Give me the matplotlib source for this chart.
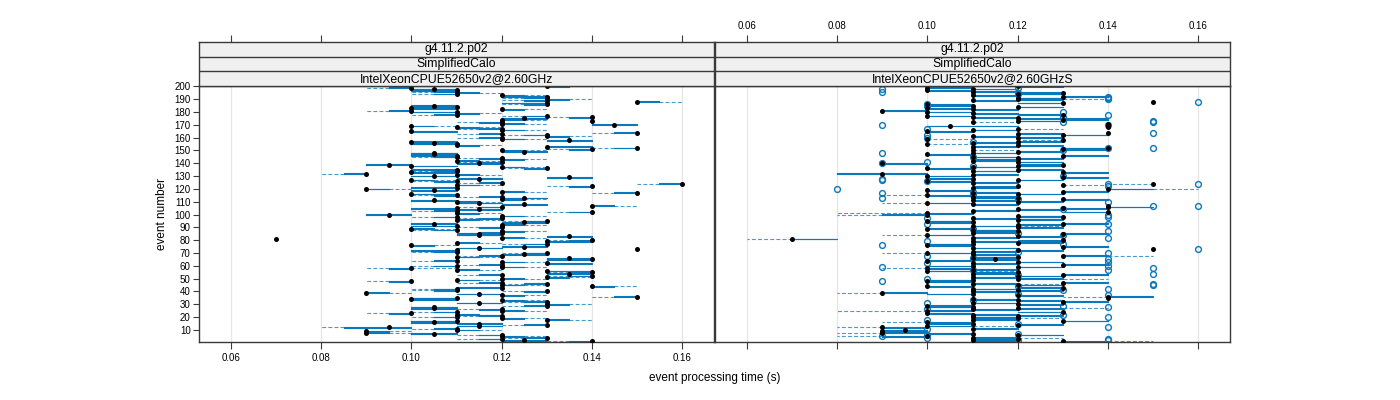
import matplotlib
matplotlib.use('Agg')
import matplotlib.pyplot as plt
import numpy as np

plt.rcParams['font.family'] = ['Liberation Sans', 'DejaVu Sans']

# event numbers and box statistics (ms)
events = list(range(1, 201))

# left panel: IntelXeonCPUE52650v2@2.60GHz
med_a = [140,125,120,130,120,120,105,90,90,110, 110,95,115,130,115,105,110,130,120,110,
         120,110,100,110,120,120,105,105,130,130, 115,130,120,100,110,150,120,115,90,130,
         110,110,120,140,120,130,120,100,110,120, 130,140,120,135,140,130,110,100,120,110,
         120,130,120,110,140,135,110,120,125,130, 110,110,150,115,125,100,130,110,130,140,
         70,120,135,115,115,120,120,110,100,120, 110,120,105,125,130,110,120,110,120,95,
         110,140,110,115,110,120,140,125,115,110, 105,120,125,120,110,100,150,120,105,90,
         110,140,110,160,120,110,100,115,135,105, 110,90,100,110,110,130,120,100,95,115,
         120,110,120,120,110,110,105,105,125,120, 140,150,130,110,110,105,100,135,120,120,
         130,130,120,150,100,120,120,110,100,145, 120,120,140,120,125,140,130,110,110,110,
         100,120,100,110,105,130,130,150,130,130, 130,130,120,110,110,110,110,105,100,130]
lo_a = [130,120,110,120,120,110,100,90,90,110, 100,80,110,120,110,100,100,130,120,100,
        110,110,90,100,120,110,100,100,120,130, 110,120,120,100,100,140,120,110,90,120,
        100,100,110,140,120,120,110,90,110,120, 130,130,110,130,130,130,110,90,120,100,
        110,130,120,100,130,130,110,110,120,120, 100,100,150,110,120,100,120,110,130,130,
        70,120,130,110,110,110,120,100,100,110, 100,120,100,120,120,110,110,100,120,90,
        110,130,100,110,100,110,140,120,110,110, 100,120,120,110,100,100,140,120,100,90,
        100,130,110,150,110,100,100,110,130,100, 110,80,100,100,100,120,120,100,90,110,
        110,110,120,110,100,100,100,100,120,120, 130,140,130,110,100,100,100,130,120,110,
        130,120,110,140,100,120,110,110,100,140, 120,110,140,120,120,130,120,100,110,100,
        90,120,100,100,100,120,120,150,120,130, 120,120,120,100,110,100,100,100,90,130]
q1_a = [135,120,115,125,120,115,100,90,90,110, 105,85,110,125,110,100,100,130,120,105,
        115,110,95,105,120,115,100,100,125,130, 110,125,120,100,100,145,120,110,90,125,
        105,105,110,140,120,125,115,95,110,120, 130,135,115,130,135,130,110,95,120,105,
        115,130,120,105,130,130,110,115,120,125, 105,100,150,110,120,100,125,110,130,135,
        70,120,130,110,110,115,120,105,100,115, 100,120,100,120,125,110,115,105,120,90,
        110,135,105,110,100,115,140,120,110,110, 100,120,120,115,105,100,145,120,100,90,
        100,135,110,155,115,105,100,110,130,100, 110,85,100,105,100,125,120,100,90,110,
        115,110,120,115,105,100,100,100,120,120, 135,145,130,110,100,100,100,130,120,115,
        130,125,115,145,100,120,115,110,100,140, 120,115,140,120,120,135,125,105,110,100,
        95,120,100,100,100,125,120,150,125,130, 125,120,120,105,110,105,100,100,95,130]
q3_a = [140,130,120,130,125,120,110,95,95,115, 110,100,120,130,120,110,110,135,125,110,
        120,115,100,110,125,120,110,110,130,135, 120,130,125,110,110,150,125,120,95,130,
        110,110,120,145,125,130,120,100,115,125, 135,140,120,140,140,140,115,100,125,110,
        120,140,125,110,140,140,115,120,130,130, 110,110,150,120,130,105,130,115,140,140,
        70,125,140,120,120,120,125,110,105,120, 110,125,110,130,130,115,120,110,125,100,
        115,140,110,120,110,120,145,130,120,115, 110,125,130,120,110,110,150,125,110,95,
        110,140,115,160,120,110,105,120,140,110, 115,90,110,110,110,130,125,110,100,120,
        120,115,125,120,110,110,110,110,130,125, 140,150,140,115,110,110,110,140,125,120,
        135,130,120,150,110,125,120,115,105,150, 125,120,140,125,130,140,130,110,115,110,
        100,125,110,110,110,130,130,155,130,135, 130,130,125,110,115,110,110,110,100,135]
hi_a = [140,130,120,130,130,120,110,100,100,120, 110,100,120,130,120,110,110,140,130,110,
        120,120,100,110,130,120,110,110,130,140, 120,130,130,110,110,150,130,120,100,130,
        110,110,120,150,130,130,120,100,120,130, 140,140,120,140,140,140,120,110,130,110,
        120,140,130,110,140,140,120,120,130,130, 110,110,150,120,130,110,130,120,140,140,
        70,130,140,120,120,120,130,110,110,120, 110,130,110,130,130,120,120,110,130,100,
        120,140,110,120,110,120,150,130,120,120, 110,130,130,120,110,110,150,130,110,100,
        110,140,120,160,120,110,110,120,140,110, 120,90,110,110,110,130,130,110,100,120,
        120,120,130,120,110,110,110,110,130,130, 140,150,140,120,110,110,110,140,130,120,
        140,130,120,150,110,130,120,120,110,150, 130,120,140,130,130,140,130,110,120,110,
        100,130,110,110,110,130,130,160,130,140, 130,130,130,110,120,110,110,110,100,140]

# right panel: IntelXeonCPUE52650v2@2.60GHzS
med_b = [130,110,120,110,100,120,110,90,90,95, 110,90,100,120,110,100,130,110,120,110,
         120,110,100,130,100,110,120,110,100,120, 110,130,120,110,140,140,120,110,90,110,
         120,110,130,100,120,110,130,100,110,120, 110,120,130,110,120,100,110,100,120,110,
         130,110,120,100,115,110,120,130,110,100, 110,120,150,110,130,100,110,120,110,130,
         70,110,120,100,130,110,120,110,100,120, 110,120,130,110,100,120,110,130,120,100,
         100,140,110,120,130,140,140,110,100,120, 110,130,120,110,100,120,110,130,100,140,
         110,120,130,150,110,100,120,110,130,100, 110,90,130,110,120,100,110,120,130,90,
         120,110,120,120,110,130,100,110,120,110, 130,140,110,120,100,110,120,130,100,120,
         110,130,120,140,100,110,120,140,105,140, 140,110,120,130,120,110,100,130,110,100,
         90,110,100,120,110,100,130,150,110,120, 120,130,110,120,130,110,100,110,100,120]
lo_b = [130,110,110,110,80,120,100,80,90,90, 110,80,100,120,100,90,130,110,110,110,
        120,110,100,120,80,110,120,100,100,120, 110,130,120,110,140,130,120,100,80,110,
        120,110,120,100,120,110,130,100,100,120, 110,120,130,110,110,100,110,90,120,100,
        130,110,120,100,110,110,110,130,110,90, 110,120,150,110,130,100,100,120,110,120,
        60,110,120,90,130,110,110,110,100,120, 110,120,130,100,100,120,110,120,120,80,
        80,130,110,120,130,140,140,110,90,120, 110,130,110,110,90,120,110,130,100,140,
        110,110,130,140,110,100,120,100,130,100, 110,80,130,110,120,100,110,120,120,90,
        120,110,110,120,110,130,100,110,120,110, 130,130,110,120,100,110,120,120,100,120,
        110,130,120,140,100,110,120,140,100,140, 140,110,120,130,120,110,100,120,110,100,
        90,110,100,120,100,100,120,150,110,120, 120,130,110,120,120,110,100,110,100,120]
q1_b = [130,110,110,110,90,120,100,90,90,90, 110,90,100,120,100,100,130,110,110,110,
        120,110,100,120,100,110,120,100,100,120, 110,130,120,110,140,140,120,100,90,110,
        120,110,120,100,120,110,130,100,100,120, 110,120,130,110,110,100,110,100,120,100,
        130,110,120,100,110,110,110,130,110,100, 110,120,150,110,130,100,100,120,110,120,
        70,110,120,100,130,110,110,110,100,120, 110,120,130,100,100,120,110,120,120,90,
        100,130,110,120,130,140,140,110,100,120, 110,130,110,110,100,120,110,130,100,140,
        110,110,130,150,110,100,120,100,130,100, 110,80,130,110,120,100,110,120,120,90,
        120,110,110,120,110,130,100,110,120,110, 130,130,110,120,100,110,120,130,100,120,
        110,130,120,140,100,110,120,140,100,140, 140,110,120,130,120,110,100,120,110,100,
        90,110,100,120,100,100,120,150,110,120, 120,130,110,120,120,110,100,110,100,120]
q3_b = [140,120,120,120,100,130,110,100,100,100, 120,100,110,130,110,110,140,120,120,120,
        130,120,110,130,110,120,130,110,110,130, 120,140,130,120,140,150,130,110,100,120,
        130,120,130,110,130,120,140,110,110,130, 120,130,140,120,120,110,120,110,130,110,
        140,120,130,110,120,120,120,140,120,110, 120,130,150,120,140,110,110,130,120,130,
        80,120,130,110,140,120,120,120,110,130, 120,130,140,110,110,130,120,130,130,100,
        110,140,120,130,140,150,140,120,110,130, 120,140,120,120,110,130,120,140,110,150,
        120,120,130,150,120,110,130,110,140,110, 120,100,140,120,130,110,120,130,130,100,
        130,120,120,130,120,140,110,120,130,110, 140,140,120,130,100,120,130,130,100,130,
        120,140,130,140,110,120,120,140,120,140, 140,110,130,140,140,120,110,130,120,110,
        100,120,110,130,110,110,130,150,120,130, 130,140,120,130,130,120,110,120,110,130]
hi_b = [150,120,120,130,100,130,110,100,100,100, 120,100,120,130,110,110,140,120,130,120,
        130,120,110,130,110,120,140,110,110,130, 120,140,130,120,140,150,130,110,100,120,
        130,120,130,110,130,130,140,110,110,140, 120,130,140,120,120,120,120,110,130,110,
        140,120,130,110,120,120,120,150,120,110, 120,130,150,120,140,110,110,130,120,130,
        80,120,130,110,140,120,120,120,110,130, 130,130,140,110,110,130,120,130,130,100,
        110,140,120,130,140,150,140,120,110,130, 120,140,120,120,110,130,120,140,110,160,
        120,120,140,150,120,110,130,110,140,110, 120,100,140,120,130,110,120,130,130,100,
        130,120,120,130,120,140,110,120,130,120, 140,140,120,130,110,120,130,130,110,130,
        120,140,130,140,110,120,130,140,120,140, 140,120,130,140,140,120,110,130,120,110,
        100,120,110,130,110,110,130,150,120,140, 130,140,120,130,130,120,110,120,110,130]

# open circles in the right panel: (event, time in ms)
out_b = [(188,160),(124,160),(107,160),(73,160),
         (173,150),(172,150),(164,150),(152,150),(107,150),(58,150),(54,150),(46,150),(45,150),
         (192,140),(191,140),(190,140),(178,140),(170,140),(152,140),(124,140),(122,140),
         (110,140),(100,140),(98,140),(93,140),(87,140),(82,140),(70,140),(65,140),(63,140),
         (60,140),(57,140),(42,140),(37,140),(28,140),(20,140),(12,140),(3,140),(2,140),
         (198,90),(196,90),(170,90),(148,90),(140,90),(128,90),(127,90),(117,90),(113,90),
         (76,90),(59,90),(48,90),(5,90),(120,80),
         (199,120),(195,120),(194,120),(186,100),(185,100),(180,130),(176,130),(172,130),
         (167,100),(162,100),(160,100),(157,110),(150,130),(145,110),(141,100),(138,110),
         (130,130),(126,100),(118,110),(115,110),(112,120),(104,130),(97,100),(93,100),
         (89,110),(86,120),(84,130),(79,100),(77,130),(71,120),(68,100),(66,110),(62,100),
         (57,110),(53,120),(50,100),(44,120),(41,130),(38,120),(33,110),(31,100),(29,130),
         (26,100),(22,130),(18,100),(15,120),(11,100),(7,120),(6,100),(4,100),(2,120)]

strips = ['g4.11.2.p02', 'SimplifiedCalo']
cpus = ['IntelXeonCPUE52650v2@2.60GHz', 'IntelXeonCPUE52650v2@2.60GHzS']
xticks = [0.06, 0.08, 0.10, 0.12, 0.14, 0.16]
yticks = list(range(10, 201, 10))

blue = '#0a78bd'
edge = '#3a3a3a'
W, H = 1400, 400


def make_stats(lo, q1, med, q3, hi, outl):
    st = []
    for i, e in enumerate(events):
        fl = [v / 1000 for (ev, v) in outl if ev == e]
        st.append(dict(whislo=lo[i] / 1000, q1=q1[i] / 1000, med=med[i] / 1000,
                       q3=q3[i] / 1000, whishi=hi[i] / 1000, fliers=fl))
    return st


fig = plt.figure(figsize=(14, 4), dpi=100)

panels = [(199, med_a, lo_a, q1_a, q3_a, hi_a, []),
          (715, med_b, lo_b, q1_b, q3_b, hi_b, out_b)]

for k, (x0, med, lo, q1, q3, hi, outl) in enumerate(panels):
    ax = fig.add_axes([x0 / W, 58 / H, 515 / W, 256 / H])
    st = make_stats(lo, q1, med, q3, hi, outl)
    ax.bxp(st, positions=events, widths=0.55, orientation='horizontal',
           showcaps=False, showfliers=True, manage_ticks=False,
           boxprops=dict(color=blue, lw=0.8),
           whiskerprops=dict(color=blue, lw=0.8, ls=(0, (3.5, 2)), alpha=0.75),
           medianprops=dict(lw=0),
           flierprops=dict(marker='o', mfc='none', mec=blue, ms=4.2, mew=1.0))
    ax.scatter(np.array(med) / 1000, events, s=13, c='black', lw=0, zorder=5)
    ax.set_xlim(0.0529, 0.1671)
    ax.set_ylim(0.6, 200.3)
    ax.set_xticks(xticks)
    ax.grid(axis='x', color='#e6e6e6', lw=0.9)
    ax.set_axisbelow(True)
    for s in ax.spines.values():
        s.set_color(edge)
        s.set_linewidth(1.0)
    ax.tick_params(axis='x', direction='out', length=5, width=0.8, color=edge,
                   labelsize=7, pad=3, labelbottom=(k == 0))
    if k == 0:
        ax.set_xticklabels(['0.06', '0.08', '0.10', '0.12', '0.14', '0.16'])
        ax.set_yticks(yticks)
        ax.tick_params(axis='y', direction='out', length=4, width=0.8, color=edge,
                       labelsize=7, pad=2)
    else:
        ax.set_yticks([])

    # strips on top of the panel
    sa = fig.add_axes([x0 / W, 314 / H, 515 / W, 44 / H])
    sa.set_facecolor('#f0f0f0')
    sa.set_xlim(0.0529, 0.1671)
    sa.set_ylim(0, 3)
    sa.set_yticks([])
    sa.set_xticks(xticks)
    sa.xaxis.tick_top()
    sa.tick_params(axis='x', direction='out', length=5, width=0.8, color=edge,
                   labelsize=7, pad=3, labeltop=(k == 1))
    if k == 1:
        sa.set_xticklabels(['0.06', '0.08', '0.10', '0.12', '0.14', '0.16'])
    for s in sa.spines.values():
        s.set_color(edge)
        s.set_linewidth(1.0)
    sa.axhline(1, color=edge, lw=1.0)
    sa.axhline(2, color=edge, lw=1.0)
    labels = strips + [cpus[k]]
    for j, t in enumerate(labels):
        sa.text(0.11, 2.5 - j, t, ha='center', va='center', fontsize=8.8, color='black')

fig.text(715 / W, 1 - 378 / H, 'event processing time (s)', ha='center', va='center', fontsize=8.5)
fig.text(162 / W, 1 - 214 / H, 'event number', ha='center', va='center', rotation=90, fontsize=8.5)

fig.savefig('out.png', dpi=100)
